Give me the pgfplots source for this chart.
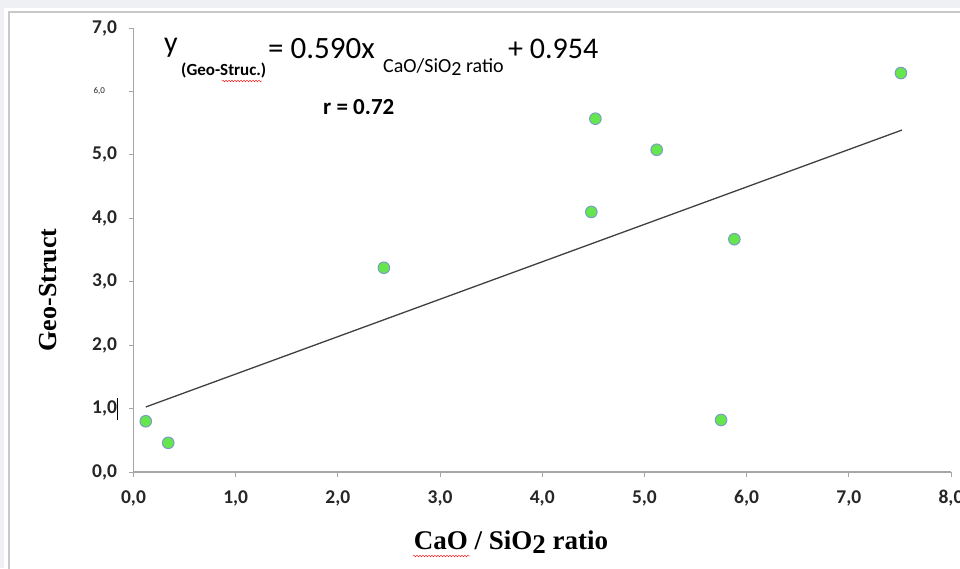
\documentclass[border=0pt]{standalone}
\usepackage{fontspec}
\usepackage{pgfplots}
\pgfplotsset{compat=1.18}
\usetikzlibrary{decorations.pathmorphing}
\newfontfamily\carlito{Carlito}
\newfontfamily\tnr{Liberation Serif}
\definecolor{dotFill}{HTML}{66E64D}
\definecolor{dotEdge}{HTML}{7A9CC8}
\definecolor{frameGray}{HTML}{C9C9C9}
\definecolor{outerGray}{HTML}{EEF0F3}
\definecolor{axisGray}{HTML}{A6A6A6}
\definecolor{trendGray}{HTML}{404040}

\begin{document}
\begin{tikzpicture}
\path[use as bounding box] (0,0) rectangle (960pt,568pt);
% window background and chart frame
\fill[outerGray] (0,0) rectangle (960pt,568pt);
\fill[white] (4pt,0) rectangle (960pt,560pt);
\fill[white,draw=frameGray,line width=2pt] (9pt,-5pt) rectangle (975pt,556pt);

\begin{axis}[
    at={(133.5pt,96pt)}, anchor=south west,
    scale only axis,
    width=817.5pt, height=444pt,
    xmin=0, xmax=8, ymin=0, ymax=7,
    axis lines*=left,
    axis line style={axisGray, line width=1.3pt, -},
    tick align=outside,
    major tick length=5pt,
    tick style={axisGray, line width=1pt},
    xtick={0,1,...,8}, ytick={0,1,...,7},
    xticklabels={{0,0},{1,0},{2,0},{3,0},{4,0},{5,0},{6,0},{7,0},{8,0}},
    yticklabels={{0,0},{1,0},{2,0},{3,0},{4,0},{5,0},{\fontsize{9}{9}\selectfont\mdseries 6,0\hspace*{12pt}},{7,0}},
    ticklabel style={font=\carlito\bfseries\fontsize{19.5}{19.5}\selectfont, text=black!85},
    xticklabel style={yshift=-10pt},
    yticklabel style={xshift=-8pt},
    clip=false,
]
% regression line y = 0.590x + 0.954
\addplot[trendGray, line width=1.3pt] coordinates {(0.12,1.025) (7.52,5.391)};
\addplot[only marks, mark=*, mark size=5.8pt,
    mark options={fill=dotFill, draw=dotEdge, line width=1pt}] coordinates {
    (0.12,0.80) (0.34,0.46) (2.45,3.22) (4.48,4.10) (4.52,5.57)
    (5.12,5.08) (5.75,0.82) (5.88,3.67) (7.51,6.29)
};
\end{axis}

\begin{scope}[x=1pt, y=-1pt, shift={(0pt,568pt)}]
% regression equation
\node[anchor=base west, inner sep=0] at (164,53) {\carlito\fontsize{30}{30}\selectfont y};
\node[anchor=base west, inner sep=0] at (181,76) {\carlito\bfseries\fontsize{17}{17}\selectfont (Geo-Struc.)};
\draw[red, decorate, decoration={snake, amplitude=0.8pt, segment length=3pt}] (222,81) -- (262,81);
\node[anchor=base west, inner sep=0] at (268,59) {\carlito\fontsize{31}{31}\selectfont = 0.590x};
\node[anchor=base west, inner sep=0] at (383,73) {\carlito\fontsize{20}{20}\selectfont CaO/SiO\raisebox{-3pt}{2} ratio};
\node[anchor=base west, inner sep=0] at (508,59) {\carlito\fontsize{30}{30}\selectfont + 0.954};
\node[anchor=base west, inner sep=0] at (323,115) {\carlito\bfseries\fontsize{23}{23}\selectfont r = 0.72};
% axis titles
\node[rotate=90, inner sep=0] at (48,290) {\tnr\bfseries\fontsize{26}{26}\selectfont Geo-Struct};
\node[inner sep=0] at (511,542) {\tnr\bfseries\fontsize{27}{27}\selectfont CaO / SiO\raisebox{-4pt}{2} ratio};
\draw[red, decorate, decoration={snake, amplitude=0.8pt, segment length=3pt}] (413,556) -- (470,556);
% text cursor
\draw[black, line width=1pt] (117,398) -- (117,420);
\end{scope}
\end{tikzpicture}
\end{document}
